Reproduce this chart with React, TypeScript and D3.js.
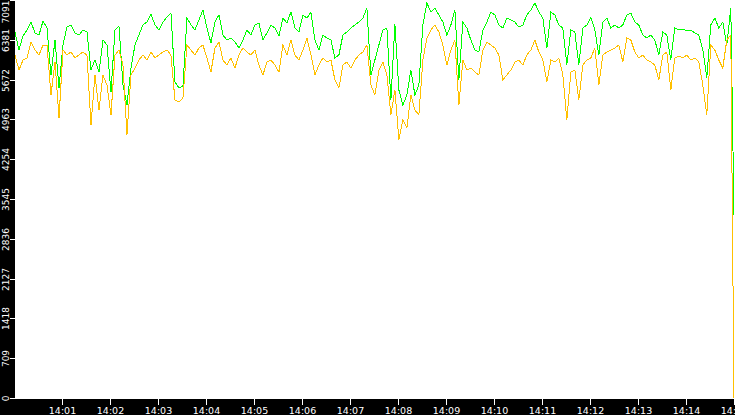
import React, { useEffect, useRef } from 'react';
import * as d3 from 'd3';

// sampled every 5 s starting 14:00:01, last sample at 14:15:00
const sampleStart = new Date(2024, 0, 1, 14, 0, 1);
const sampleEnd = new Date(2024, 0, 1, 14, 15, 0);
const sampleStepSec = 5;

const greenValues = [
  6521, 6200, 6450, 6556, 6699, 6503, 6467, 6717, 6592, 5755,
  6378, 5523, 6289, 6610, 6646, 6503, 6467, 6556, 6521, 5844,
  6022, 5808, 6378, 6289, 5452, 6556, 6628, 5576, 5220, 5879,
  6289, 6467, 6646, 6699, 6842, 6646, 6556, 6699, 6788, 6859,
  5630, 5523, 5559, 6770, 6646, 6556, 6735, 6913, 6592, 6325,
  6699, 6824, 6467, 6378, 6414, 6343, 6236, 6378, 6556, 6467,
  6646, 6681, 6378, 6503, 6646, 6592, 6450, 6770, 6681, 6877,
  6592, 6521, 6824, 6770, 6877, 6378, 6200, 6467, 6414, 6378,
  6058, 6111, 6467, 6521, 6592, 6646, 6699, 6770, 6948, 5755,
  6022, 6289, 6556, 6592, 5309, 6663, 5487, 5220, 5398, 5844,
  5398, 5576, 6646, 7038, 6877, 6948, 6824, 6699, 6467, 6646,
  6913, 5666, 6699, 6592, 6378, 6200, 6165, 6556, 6699, 6877,
  6824, 6646, 6592, 6770, 6735, 6699, 6610, 6646, 6824, 6913,
  7038, 6877, 6770, 6236, 6877, 6824, 6646, 6592, 5933, 6556,
  6521, 5933, 6592, 6646, 6788, 6556, 6111, 6699, 6770, 6592,
  6646, 6592, 6646, 6824, 6859, 6699, 6646, 6467, 6414, 6467,
  6378, 6111, 6521, 6467, 6022, 6592, 6556, 6574, 6539, 6556,
  6503, 6467, 6200, 5701, 6646, 6770, 6592, 6699, 6289, 6948,
  3260,
];

const orangeValues = [
  6111, 5844, 6022, 6058, 6343, 6200, 6111, 6289, 6289, 5398,
  5986, 4989, 6200, 6111, 6165, 6058, 6111, 6165, 6111, 4864,
  5755, 5131, 5755, 5576, 5042, 6111, 6200, 5933, 4686, 5755,
  5879, 6022, 6111, 6022, 6165, 6058, 6111, 6165, 6200, 6111,
  5309, 5274, 5345, 6289, 6200, 6111, 6236, 6289, 6058, 5808,
  6236, 6343, 6022, 5933, 6058, 5879, 6111, 6236, 6165, 6111,
  6200, 5933, 5755, 5986, 6022, 5933, 5808, 6289, 6111, 6378,
  6111, 6022, 6200, 6414, 6111, 5755, 5933, 6058, 5986, 6022,
  5666, 5523, 5933, 5986, 5879, 6022, 6111, 6165, 6289, 5576,
  5398, 5844, 5986, 5755, 5042, 5487, 4597, 4953, 4810, 5398,
  5131, 5042, 6022, 6414, 6556, 6646, 6521, 6289, 5933, 6200,
  6378, 5220, 6022, 5844, 5879, 5808, 5755, 6200, 6343, 6289,
  6236, 6111, 5666, 5755, 5844, 5986, 6022, 5933, 6111, 6200,
  6378, 6165, 6022, 5630, 6022, 5986, 6058, 5755, 4953, 5808,
  5844, 5309, 5933, 6022, 6058, 6236, 5576, 6111, 6165, 6200,
  6236, 6289, 5986, 6414, 6378, 6165, 6058, 6111, 6022, 5986,
  5933, 5666, 6111, 6165, 5487, 6058, 6093, 6058, 6111, 6022,
  6058, 5986, 5576, 5042, 6289, 6200, 6022, 5879, 6378, 6467,
  0,
];

const yMax = 7091;
const yTickCount = 10;

const seriesList = [
  { name: 'green', color: '#00ff00', values: greenValues },
  { name: 'orange', color: '#ffc000', values: orangeValues },
];

const sampleTime = (i: number, n: number) =>
  i === n - 1 ? sampleEnd : d3.timeSecond.offset(sampleStart, i * sampleStepSec);

export default function App() {
  const svgRef = useRef<SVGSVGElement>(null);

  useEffect(() => {
    if (!svgRef.current) return;
    const width = 735;
    const height = 415;
    const left = 15;
    const bottom = 398;

    const svg = d3.select(svgRef.current);
    svg.selectAll('*').remove();

    svg.append('rect').attr('width', width).attr('height', height).attr('fill', '#000');
    svg
      .append('rect')
      .attr('x', left)
      .attr('y', 0)
      .attr('width', width - left)
      .attr('height', bottom + 1)
      .attr('fill', '#fff');

    const x = d3.scaleTime().domain([sampleStart, sampleEnd]).range([left, width - 1]);
    const y = d3.scaleLinear().domain([0, yMax]).range([bottom, 0]);

    // y axis: rotated labels on black strip
    const yTicks = d3.range(yTickCount + 1).map((k) => (yMax * k) / yTickCount);
    const yAxis = svg.append('g');
    yTicks.forEach((v, k) => {
      const py = Math.round(y(v)) + 0.5;
      yAxis
        .append('line')
        .attr('x1', 10)
        .attr('x2', left)
        .attr('y1', py)
        .attr('y2', py)
        .attr('stroke', '#fff')
        .attr('shape-rendering', 'crispEdges');
      const isTop = k === yTickCount;
      yAxis
        .append('text')
        .attr('transform', `translate(9,${isTop ? 0.5 : py}) rotate(-90)`)
        .attr('text-anchor', isTop ? 'end' : 'middle')
        .attr('fill', '#fff')
        .style('font-family', 'DejaVu Sans, sans-serif')
        .style('font-size', '9px')
        .text(Math.floor(v + 0.01));
    });

    // x axis
    const xAxis = svg.append('g');
    x.ticks(d3.timeMinute.every(1)!).forEach((t) => {
      const px = Math.round(x(t)) + 0.5;
      xAxis
        .append('line')
        .attr('x1', px)
        .attr('x2', px)
        .attr('y1', bottom + 1)
        .attr('y2', bottom + 7)
        .attr('stroke', '#fff')
        .attr('shape-rendering', 'crispEdges');
      xAxis
        .append('text')
        .attr('x', px)
        .attr('y', 414)
        .attr('text-anchor', 'middle')
        .attr('fill', '#fff')
        .style('font-family', 'DejaVu Sans, sans-serif')
        .style('font-size', '9.5px')
        .text(d3.timeFormat('%H:%M')(t));
    });

    // series
    const line = d3
      .line<number>()
      .x((_, i, arr) => x(sampleTime(i, arr.length)))
      .y((d) => y(d));

    seriesList.forEach((s) => {
      svg
        .append('path')
        .datum(s.values)
        .attr('d', line)
        .attr('fill', 'none')
        .attr('stroke', s.color)
        .attr('stroke-width', 1)
        .attr('shape-rendering', 'crispEdges');
    });
  }, []);

  return (
    <div style={{ position: 'absolute', left: 0, top: 0 }}>
      <svg ref={svgRef} width={735} height={415} style={{ display: 'block' }} />
    </div>
  );
}
